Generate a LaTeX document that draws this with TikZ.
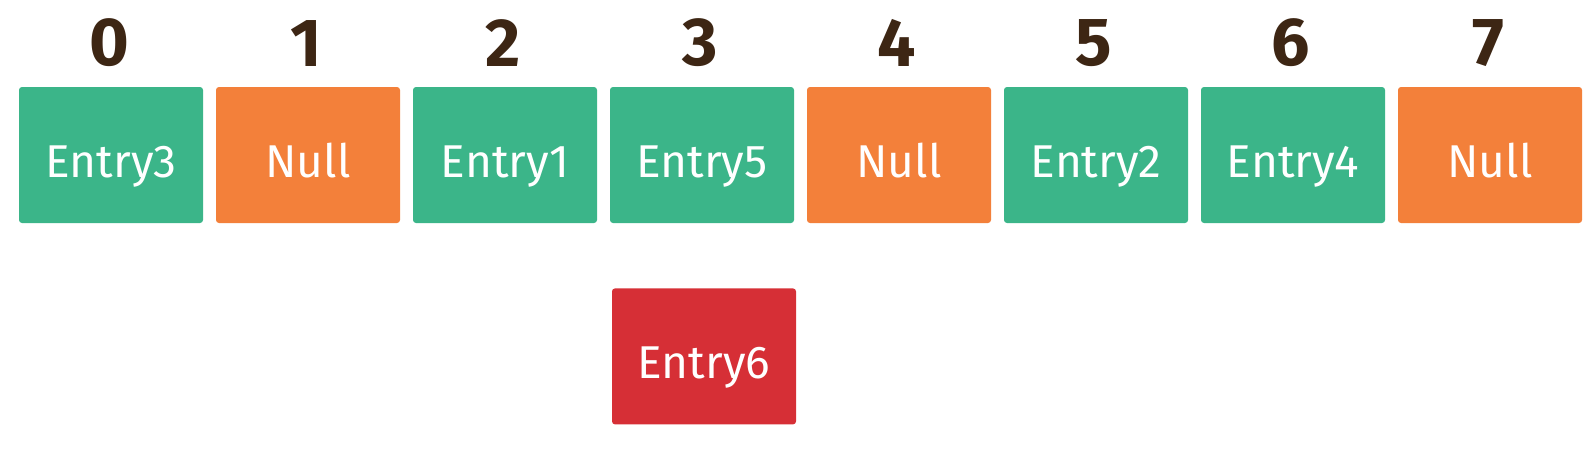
\documentclass[tikz,border=0pt]{standalone}
\usepackage{fontspec}
\setmainfont{Fira Sans}
\usetikzlibrary{positioning}
\definecolor{slotGreen}{HTML}{3BB589}
\definecolor{slotOrange}{HTML}{F3803A}
\definecolor{slotRed}{HTML}{D62F36}
\definecolor{indexBrown}{HTML}{3D2614}

\begin{document}
\begin{tikzpicture}[x=1pt, y=-1pt, node distance=12.6pt,
  slot/.style={rounded corners=3pt, minimum width=184pt, minimum height=136pt,
               inner sep=0pt, text height=44pt, text depth=0pt, text=white,
               font=\fontsize{46}{48}\selectfont},
  idx/.style={inner sep=0pt, text=indexBrown,
              font=\fontsize{68}{70}\selectfont\bfseries}]

  \useasboundingbox (0,0) rectangle (1595,466);

  %% ═══════════════════════════════════════════════════════════════
  %% TABLE SLOTS
  %% ═══════════════════════════════════════════════════════════════

  \node[slot, fill=slotGreen] (s0) at (111,155) {Entry3};
  \node[slot, fill=slotOrange, right=of s0] (s1) {Null};
  \node[slot, fill=slotGreen,  right=of s1] (s2) {Entry1};
  \node[slot, fill=slotGreen,  right=of s2] (s3) {Entry5};
  \node[slot, fill=slotOrange, right=of s3] (s4) {Null};
  \node[slot, fill=slotGreen,  right=of s4] (s5) {Entry2};
  \node[slot, fill=slotGreen,  right=of s5] (s6) {Entry4};
  \node[slot, fill=slotOrange, right=of s6] (s7) {Null};

  %% ═══════════════════════════════════════════════════════════════
  %% INDICES
  %% ═══════════════════════════════════════════════════════════════

  \foreach \i in {0,...,7}
    \node[idx, above=20pt of s\i, xshift=-2pt] (n\i) {\i};

  %% ═══════════════════════════════════════════════════════════════
  %% NEW ENTRY
  %% ═══════════════════════════════════════════════════════════════

  \node[slot, fill=slotRed, below=65pt of s3, xshift=2pt] (enew) {Entry6};

\end{tikzpicture}
\end{document}
